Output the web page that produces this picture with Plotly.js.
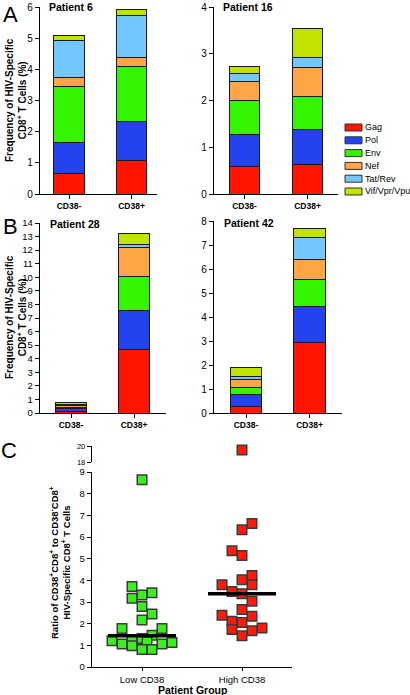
<!DOCTYPE html>
<html><head><meta charset="utf-8">
<script src="https://cdn.plot.ly/plotly-3.0.1.min.js"></script>
<style>html,body{margin:0;padding:0;background:#fff;}#chart{width:410px;height:695px;}</style>
</head><body><div id="chart"></div>
<script>
// ---------- data ----------
const categories = ['CD38-', 'CD38+'];
const antigens = ['Gag', 'Pol', 'Env', 'Nef', 'Tat/Rev', 'Vif/Vpr/Vpu'];
const antigenColors = ['#ff1500', '#2342f0', '#33f500', '#ffa545', '#74c6ff', '#c2e200'];
const patients = ['Patient 6', 'Patient 16', 'Patient 28', 'Patient 42'];
// segment heights (% of CD8+ T cells), order = antigens
const p6Neg  = [0.66, 1.00, 1.79, 0.30, 1.17, 0.15];
const p6Pos  = [1.07, 1.26, 1.76, 0.29, 1.35, 0.18];
const p16Neg = [0.58, 0.70, 0.72, 0.41, 0.17, 0.15];
const p16Pos = [0.63, 0.75, 0.70, 0.63, 0.22, 0.60];
const p28Neg = [0.12, 0.20, 0.10, 0.10, 0.08, 0.14];
const p28Pos = [4.70, 2.82, 2.53, 2.11, 0.29, 0.75];
const p42Neg = [0.28, 0.50, 0.30, 0.31, 0.14, 0.35];
const p42Pos = [2.93, 1.51, 1.12, 0.83, 0.94, 0.34];
const yMax = [6, 4, 14, 8];

// panel C
const groups = ['Low CD38', 'High CD38'];
const lowOffset = [0, -0.1, -0.1, 0, 0.1, 0, 0.1, 0, -0.2, 0.2, -0.3, -0.2, -0.1, -0.1, 0, 0.1, 0.05, 0, 0.1, 0.2, 0.3];
const lowRatio  = [8.64, 3.71, 3.17, 3.32, 3.43, 2.79, 2.45, 2.17, 1.78, 1.78, 1.21, 1.06, 1.24, 0.98, 1.32, 1.47, 1.16, 0.81, 0.81, 1.06, 1.13];
const highOffset = [0, 0.1, 0, -0.1, 0, 0.1, 0, 0.1, -0.2, -0.1, 0, 0.1, 0, -0.2, 0.1, -0.1, 0, -0.1, 0.2, 0.1, 0];
const highRatio  = [19.5, 6.62, 6.34, 5.36, 5.15, 4.22, 4.03, 3.80, 3.80, 3.49, 3.38, 3.04, 2.65, 2.39, 2.34, 2.11, 2.05, 1.73, 1.80, 1.67, 1.44];
const medians = [1.44, 3.38];

// ---------- helpers ----------
const W = 410, H = 695;
const X = p => p / W;
const Y = p => 1 - p / H;
const FONT = 'Liberation Sans, Arial, Helvetica, sans-serif';

const panelData = [[p6Neg, p6Pos], [p16Neg, p16Pos], [p28Neg, p28Pos], [p42Neg, p42Pos]];
const traces = [];
panelData.forEach((pd, k) => {
  const ax = k === 0 ? '' : String(k + 1);
  antigens.forEach((name, i) => {
    traces.push({
      type: 'bar', name: name, x: categories, y: [pd[0][i], pd[1][i]],
      xaxis: 'x' + ax, yaxis: 'y' + ax, width: 0.49,
      marker: {color: antigenColors[i], line: {color: '#1a1a1a', width: 1}},
      showlegend: false, hoverinfo: 'x+y+name'
    });
  });
});

// Panel C scatter
const lowLowerX = [], lowLowerY = [];
lowRatio.forEach((v, i) => { lowLowerX.push(1 + lowOffset[i]); lowLowerY.push(v); });
const highLowerX = [], highLowerY = [], highUpperX = [], highUpperY = [];
highRatio.forEach((v, i) => {
  if (v > 9) { highUpperX.push(2 + highOffset[i]); highUpperY.push(v); }
  else { highLowerX.push(2 + highOffset[i]); highLowerY.push(v); }
});
const mk = c => ({symbol: 'square', size: 9.5, color: c, line: {color: '#3a3a3a', width: 1.5}});
traces.push({type: 'scatter', mode: 'markers', name: groups[0], x: lowLowerX, y: lowLowerY, xaxis: 'x5', yaxis: 'y5', marker: mk('#3af01c'), cliponaxis: false, showlegend: false});
traces.push({type: 'scatter', mode: 'markers', name: groups[1], x: highLowerX, y: highLowerY, xaxis: 'x5', yaxis: 'y5', marker: mk('#ff1a0a'), cliponaxis: false, showlegend: false});
traces.push({type: 'scatter', mode: 'markers', name: groups[1] + ' (upper)', x: highUpperX, y: highUpperY, xaxis: 'x5', yaxis: 'y6', marker: mk('#ff1a0a'), cliponaxis: false, showlegend: false});
medians.forEach((m, i) => {
  traces.push({type: 'scatter', mode: 'lines', name: groups[i] + ' median', x: [i + 1 - 0.34, i + 1 + 0.34], y: [m, m],
    xaxis: 'x5', yaxis: 'y5', line: {color: '#000', width: 3.5}, showlegend: false, hoverinfo: 'y'});
});

// ---------- layout ----------
const baseX = (dom, rng) => ({
  domain: [X(dom[0]), X(dom[1])], range: rng, type: 'category',
  showline: true, linecolor: '#000', linewidth: 1.2, ticks: 'outside', ticklen: 4, tickcolor: '#000', tickwidth: 1,
  tickfont: {family: FONT, size: 8.5, color: '#000', weight: 'bold'}, showgrid: false, zeroline: false, fixedrange: true
});
const baseY = (dom, max, fs) => ({
  domain: [Y(dom[1]), Y(dom[0])], range: [0, max], dtick: 1, tick0: 0,
  showline: true, linecolor: '#000', linewidth: 1.2, ticks: 'outside', ticklen: 4, tickcolor: '#000', tickwidth: 1,
  tickfont: {family: FONT, size: fs, color: '#000'}, showgrid: false, zeroline: false, fixedrange: true
});

const layout = {
  width: W, height: H, margin: {l: 0, r: 0, t: 0, b: 0},
  paper_bgcolor: '#fff', plot_bgcolor: 'rgba(0,0,0,0)',
  barmode: 'stack', showlegend: false, font: {family: FONT, color: '#000'},
  xaxis:  baseX([40, 157], [-0.464, 1.408]),
  yaxis:  Object.assign(baseY([7, 194], yMax[0], 10), {anchor: 'x'}),
  xaxis2: Object.assign(baseX([214, 338], [-0.484, 1.484]), {anchor: 'y2'}),
  yaxis2: Object.assign(baseY([7, 194], yMax[1], 10), {anchor: 'x2'}),
  xaxis3: Object.assign(baseX([40, 166], [-0.492, 1.508]), {anchor: 'y3'}),
  yaxis3: Object.assign(baseY([223, 413], yMax[2], 9.5), {anchor: 'x3'}),
  xaxis4: Object.assign(baseX([214, 342], [-0.504, 1.512]), {anchor: 'y4'}),
  yaxis4: Object.assign(baseY([221, 413], yMax[3], 10), {anchor: 'x4'}),
  xaxis5: {
    domain: [X(92), X(292)], range: [0.5, 2.5], anchor: 'y5', tickvals: [1, 2], ticktext: groups,
    showline: true, linecolor: '#000', linewidth: 1.2, ticks: 'outside', ticklen: 3, tickcolor: '#000',
    tickfont: {family: FONT, size: 9.5, color: '#000'}, showgrid: false, zeroline: false, fixedrange: true
  },
  yaxis5: Object.assign(baseY([472, 667], 9, 9.5), {anchor: 'x5'}),
  yaxis6: {
    domain: [Y(462), Y(446)], range: [18, 20], anchor: 'x5', tickvals: [18, 20],
    showline: true, linecolor: '#000', linewidth: 1.2, ticks: 'outside', ticklen: 4, tickcolor: '#000',
    tickfont: {family: FONT, size: 7.5, color: '#000'}, showgrid: false, zeroline: false, fixedrange: true
  },
  annotations: [],
  shapes: []
};

const ann = (text, xp, yp, opts) => Object.assign({
  text: text, xref: 'paper', yref: 'paper', x: X(xp), y: Y(yp), showarrow: false,
  xanchor: 'center', yanchor: 'middle', font: {family: FONT, size: 10, color: '#000'}
}, opts || {});

// panel letters
layout.annotations.push(ann('A', 10, 15, {font: {family: FONT, size: 22, color: '#000'}}));
layout.annotations.push(ann('B', 10, 226, {font: {family: FONT, size: 22, color: '#000'}}));
layout.annotations.push(ann('C', 9, 450, {font: {family: FONT, size: 22, color: '#000'}}));
// patient titles
const titlePos = [[47, 7], [221, 7], [48, 224], [222, 223]];
patients.forEach((p, i) => layout.annotations.push(ann(p, titlePos[i][0], titlePos[i][1],
  {xanchor: 'left', font: {family: FONT, size: 10.5, color: '#000', weight: 'bold'}})));
// y titles
const freqTitle = 'Frequency of HIV-Specific<br>CD8<sup>+</sup> T Cells (%)';
layout.annotations.push(ann(freqTitle, 16, 100, {textangle: -90, font: {family: FONT, size: 10, color: '#000', weight: 'bold'}}));
layout.annotations.push(ann(freqTitle, 16, 317, {textangle: -90, font: {family: FONT, size: 10, color: '#000', weight: 'bold'}}));
layout.annotations.push(ann('Ratio of CD38<sup>+</sup>CD8<sup>+</sup> to CD38<sup>-</sup>CD8<sup>+</sup><br>HIV-Specific CD8<sup>+</sup> T Cells',
  60, 562, {textangle: -90, font: {family: FONT, size: 9.5, color: '#000', weight: 'bold'}}));
layout.annotations.push(ann('Patient Group', 192, 689.5, {font: {family: FONT, size: 10.5, color: '#000', weight: 'bold'}}));

// legend (swatches + labels)
antigens.forEach((name, i) => {
  const cy = 127.5 + i * 12.8;
  layout.shapes.push({type: 'rect', xref: 'paper', yref: 'paper', x0: X(345), x1: X(362), y0: Y(cy + 3.5), y1: Y(cy - 3.5),
    fillcolor: antigenColors[i], line: {color: '#333', width: 1}});
  layout.annotations.push(ann(name, 362.5, cy, {xanchor: 'left', font: {family: FONT, size: 9, color: '#000'}}));
});

Plotly.newPlot('chart', traces, layout, {staticPlot: true, displayModeBar: false});
</script></body></html>
